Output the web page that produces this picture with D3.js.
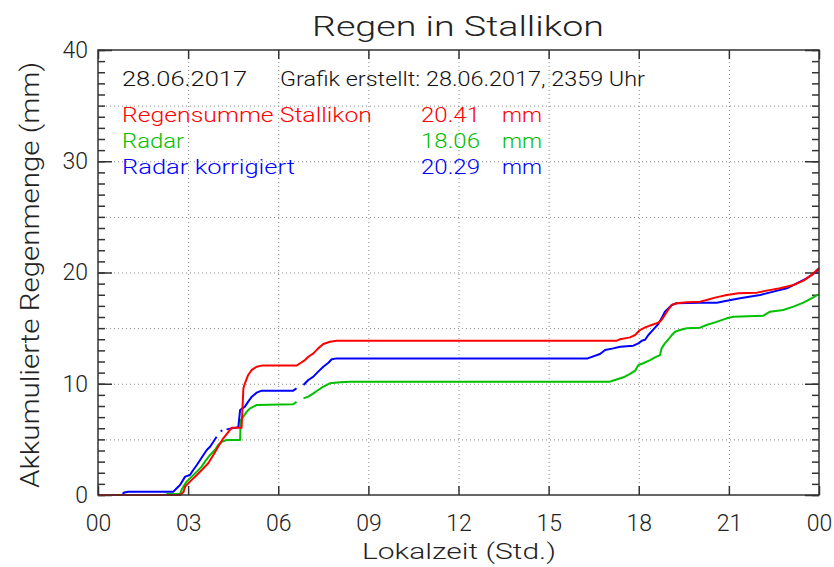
<!DOCTYPE html>
<html><head><meta charset="utf-8">
<script src="https://cdn.jsdelivr.net/npm/d3@7"></script>
<style>
body{margin:0;background:#fff}
svg{display:block}
text{font-family:Roboto,"DejaVu Sans",sans-serif;font-weight:300}
</style>
</head><body>
<svg id="c" width="834" height="567"></svg>
<script>
// ---------- data ----------
const titleText = "Regen in Stallikon";
const xTitle = "Lokalzeit (Std.)";
const yTitle = "Akkumulierte Regenmenge (mm)";
const xTicks = [0, 3, 6, 9, 12, 15, 18, 21, 24];
const xTickLabels = ["00", "03", "06", "09", "12", "15", "18", "21", "00"];
const yTicks = [0, 10, 20, 30, 40];
const yTickLabels = ["0", "10", "20", "30", "40"];
const headerDate = "28.06.2017";
const headerCreated = "Grafik erstellt: 28.06.2017, 2359 Uhr";
const seriesNames = ["Regensumme Stallikon", "Radar", "Radar korrigiert"];
const seriesTotals = ["20.41", "18.06", "20.29"];
const seriesUnit = "mm";
const seriesColors = ["#ff0000", "#00c000", "#0000ff"];

// Regensumme Stallikon (red)
const redHours = [0, 2.73, 2.85, 2.90, 3.06, 3.29, 3.51, 3.67, 3.84, 4.00, 4.17, 4.39, 4.45, 4.78, 4.84, 4.89, 5.00, 5.12, 5.28, 5.45,
  6.61, 6.73, 6.89, 7.00, 7.17, 7.33, 7.50, 7.72, 7.95, 17.27, 17.38, 17.71, 17.88, 18.04, 18.21, 18.43, 18.65, 18.76, 18.87, 18.99,
  19.10, 19.26, 19.60, 20.04, 20.26, 20.54, 20.93, 21.32, 21.93, 22.26, 22.70, 23.15, 23.48, 23.76, 24.0];
const redValues = [0, 0, 0.3, 0.75, 1.2, 1.8, 2.4, 2.85, 3.6, 4.34, 5.1, 5.84, 6.05, 6.05, 9.6, 10.04, 10.79, 11.24, 11.53, 11.63,
  11.63, 11.84, 12.13, 12.43, 12.73, 13.18, 13.57, 13.78, 13.87, 13.87, 14.0, 14.17, 14.38, 14.83, 15.07, 15.28, 15.49, 15.73, 16.18, 16.69,
  17.08, 17.23, 17.32, 17.38, 17.53, 17.74, 17.98, 18.13, 18.19, 18.37, 18.58, 18.88, 19.27, 19.78, 20.41];

// Radar (green), null = missing
const greenHours = [0, 2.29, 2.30, 2.73, 2.78, 2.84, 2.95, 3.12, 3.29, 3.45, 3.56, 3.73, 3.89, 4.00, 4.12, 4.28, 4.73, 4.75, 4.84, 4.95,
  5.06, 5.28, 6.50, 6.61, 6.70, 6.84, 7.00, 7.17, 7.33, 7.50, 7.72, 8.06, 8.39, 17.04, 17.21, 17.49, 17.71, 17.88, 17.99, 18.15,
  18.38, 18.54, 18.71, 18.76, 18.87, 18.99, 19.10, 19.21, 19.37, 19.60, 20.04, 20.26, 20.54, 20.93, 21.15, 22.15, 22.37, 22.81, 23.15, 23.48,
  23.81, 24.0];
const greenValues = [0, 0, 0.09, 0.09, 0.45, 0.75, 1.2, 1.65, 2.1, 2.55, 3.0, 3.6, 4.04, 4.49, 4.79, 4.94, 4.94, 6.74, 7.04, 7.49,
  7.79, 8.09, 8.15, 8.39, null, 8.69, 8.84, 9.14, 9.44, 9.74, 10.04, 10.13, 10.19, 10.19, 10.34, 10.58, 10.88, 11.18, 11.69, 11.84,
  12.13, 12.37, 12.58, 13.18, 13.63, 14.0, 14.38, 14.68, 14.83, 14.98, 15.04, 15.28, 15.52, 15.88, 16.03, 16.12, 16.48, 16.63, 16.93, 17.29,
  17.77, 18.06];

// Radar korrigiert (blue), null = missing
const blueHours = [0, 0.83, 0.85, 1.0, 2.51, 2.62, 2.73, 2.90, 3.06, 3.17, 3.29, 3.40, 3.51, 3.62, 3.73, 3.84, 3.95, 4.02, 4.08, 4.14,
  4.21, 4.28, 4.67, 4.73, 4.89, 5.00, 5.12, 5.28, 5.45, 6.50, 6.61, 6.70, 6.84, 7.00, 7.17, 7.33, 7.50, 7.67, 7.78, 7.95,
  16.30, 16.71, 16.88, 17.15, 17.38, 17.82, 17.99, 18.10, 18.21, 18.32, 18.49, 18.65, 18.76, 18.87, 18.99, 19.10, 19.26, 20.04, 20.60, 20.93,
  21.37, 22.04, 22.48, 22.93, 23.26, 23.59, 23.81, 24.0];
const blueValues = [0, 0, 0.2, 0.3, 0.3, 0.6, 0.9, 1.65, 1.8, 2.25, 2.7, 3.15, 3.6, 4.04, 4.34, 4.79, 5.24, null, 5.75, 5.8,
  null, 5.9, 6.08, 7.64, 7.94, 8.39, 8.84, 9.2, 9.38, 9.38, 9.6, null, 9.89, 10.34, 10.64, 11.09, 11.53, 11.89, 12.2, 12.28,
  12.28, 12.67, 13.03, 13.18, 13.33, 13.42, 13.63, 13.87, 13.95, 14.38, 14.89, 15.37, 15.88, 16.48, 16.78, 17.08, 17.23, 17.29, 17.29, 17.47,
  17.68, 17.98, 18.28, 18.58, 19.03, 19.48, 19.87, 20.29];

// ---------- drawing ----------
const svg = d3.select("#c");
const L = 98, R = 819, T = 50, B = 495;
const x = d3.scaleLinear().domain([0, 24]).range([L, R]);
const y = d3.scaleLinear().domain([0, 40]).range([B, T]);
const axisColor = "#333";

// grid (dotted)
const grid = svg.append("g").attr("stroke", "#888").attr("stroke-width", 1).attr("stroke-dasharray", "1,3");
grid.selectAll("line.gx").data(xTicks.filter(d => d > 0 && d < 24)).join("line")
  .attr("x1", d => x(d) + 0.5).attr("x2", d => x(d) + 0.5).attr("y1", B).attr("y2", T);
grid.selectAll("line.gy").data(d3.range(5, 40, 5)).join("line")
  .attr("x1", L).attr("x2", R).attr("y1", d => y(d) + 0.5).attr("y2", d => y(d) + 0.5);

// axes
const fs = 23;
function styleAxis(g) {
  g.select(".domain").remove();
  g.selectAll("line").attr("stroke", axisColor).attr("stroke-width", 1.5);
  g.selectAll("text").attr("fill", "#222").style("font-size", fs + "px").style("font-family", "Roboto, 'DejaVu Sans', sans-serif").style("font-weight", 300);
}
svg.append("g").attr("transform", `translate(0,${B})`)
  .call(d3.axisBottom(x).tickValues(xTicks).tickSizeInner(-9).tickSizeOuter(0).tickPadding(20)
    .tickFormat((d, i) => xTickLabels[i])).call(styleAxis);
svg.append("g").attr("transform", `translate(0,${T})`)
  .call(d3.axisTop(x).tickValues(xTicks).tickSizeInner(-9).tickSizeOuter(0).tickFormat("")).call(styleAxis);
svg.append("g").attr("transform", `translate(${L},0)`)
  .call(d3.axisLeft(y).tickValues(d3.range(0, 41)).tickSizeInner(-7).tickSizeOuter(0).tickFormat("")).call(styleAxis);
svg.append("g").attr("transform", `translate(${L},0)`)
  .call(d3.axisLeft(y).tickValues(yTicks).tickSizeInner(-14).tickSizeOuter(0).tickPadding(10)
    .tickFormat((d, i) => yTickLabels[i])).call(styleAxis);
svg.append("g").attr("transform", `translate(${R},0)`)
  .call(d3.axisRight(y).tickValues(d3.range(0, 41)).tickSizeInner(-7).tickSizeOuter(0).tickFormat("")).call(styleAxis);
svg.append("g").attr("transform", `translate(${R},0)`)
  .call(d3.axisRight(y).tickValues(yTicks).tickSizeInner(-14).tickSizeOuter(0).tickFormat("")).call(styleAxis);

// lines
const series = [
  { hours: redHours, values: redValues, color: seriesColors[0] },
  { hours: greenHours, values: greenValues, color: seriesColors[1] },
  { hours: blueHours, values: blueValues, color: seriesColors[2] }
];
const line = d3.line().defined(d => d[1] !== null).x(d => x(d[0])).y(d => y(d[1]));
const drawOrder = [1, 2, 0];
const lg = svg.append("g");
drawOrder.forEach(k => {
  const s = series[k];
  lg.append("path").datum(s.hours.map((h, i) => [h, s.values[i]]))
    .attr("fill", "none").attr("stroke", s.color).attr("stroke-width", 2).attr("stroke-linejoin", "round")
    .attr("d", line);
});

// frame
svg.append("rect").attr("x", L).attr("y", T).attr("width", R - L).attr("height", B - T)
  .attr("fill", "none").attr("stroke", axisColor).attr("stroke-width", 1.5);

// title & axis titles
svg.append("text").attr("x", 458).attr("y", 36).attr("text-anchor", "middle")
  .attr("textLength", 292).attr("lengthAdjust", "spacingAndGlyphs")
  .style("font-size", "27px").attr("fill", "#222").text(titleText);
svg.append("text").attr("x", 459).attr("y", 559).attr("text-anchor", "middle")
  .attr("textLength", 194).attr("lengthAdjust", "spacingAndGlyphs")
  .style("font-size", "22px").attr("fill", "#222").text(xTitle);
svg.append("text").attr("transform", "translate(39,275) rotate(-90)").attr("text-anchor", "middle")
  .attr("textLength", 426).attr("lengthAdjust", "spacingAndGlyphs")
  .style("font-size", "26px").attr("fill", "#222").text(yTitle);

// header / legend
const hf = "21px";
svg.append("text").attr("x", 122).attr("y", 86).attr("textLength", 125).attr("lengthAdjust", "spacingAndGlyphs")
  .style("font-size", hf).attr("fill", "#111").text(headerDate);
svg.append("text").attr("x", 280).attr("y", 86).attr("textLength", 365).attr("lengthAdjust", "spacingAndGlyphs")
  .style("font-size", hf).attr("fill", "#111").text(headerCreated);
const rowY = [122, 148, 174];
const nameW = [250, 62, 173];
seriesNames.forEach((n, i) => {
  svg.append("text").attr("x", 122).attr("y", rowY[i]).attr("textLength", nameW[i]).attr("lengthAdjust", "spacingAndGlyphs")
    .style("font-size", hf).attr("fill", seriesColors[i]).text(n);
  svg.append("text").attr("x", 421).attr("y", rowY[i]).attr("textLength", 59).attr("lengthAdjust", "spacingAndGlyphs")
    .style("font-size", hf).attr("fill", seriesColors[i]).text(seriesTotals[i]);
  svg.append("text").attr("x", 502).attr("y", rowY[i]).attr("textLength", 40).attr("lengthAdjust", "spacingAndGlyphs")
    .style("font-size", hf).attr("fill", seriesColors[i]).text(seriesUnit);
});
</script>
</body></html>
